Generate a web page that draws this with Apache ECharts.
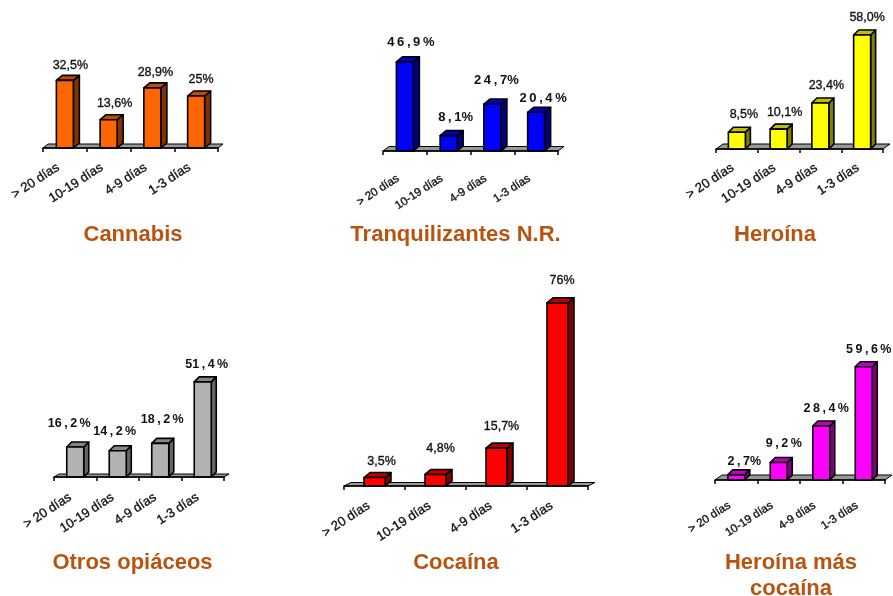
<!DOCTYPE html>
<html><head><meta charset="utf-8">
<style>html,body{margin:0;padding:0;background:#fff}#c{width:893px;height:596px}</style>
<script src="https://cdn.jsdelivr.net/npm/echarts@6/dist/echarts.min.js"></script>
</head><body><div id="c"></div>
<script>
var categories = ['> 20 días','10-19 días','4-9 días','1-3 días'];
var titles = ['Cannabis','Tranquilizantes N.R.','Heroína','Otros opiáceos','Cocaína','Heroína más\ncocaína'];
var cannabis = [32.5,13.6,28.9,25];
var tranquilizantes = [46.9,8.1,24.7,20.4];
var heroina = [8.5,10.1,23.4,58.0];
var opiaceos = [16.2,14.2,18.2,51.4];
var cocaina = [3.5,4.8,15.7,76];
var heroinaCocaina = [2.7,9.2,28.4,59.6];
var labelsCannabis = ['32,5%','13,6%','28,9%','25%'];
var labelsTranq = ['4\u20096\u2009,\u20099\u2009%','8\u2009,\u20091%','2\u20094\u2009,\u20097%','2\u20090\u2009,\u20094\u2009%'];
var labelsHeroina = ['8,5%','10,1%','23,4%','58,0%'];
var labelsOpiaceos = ['16\u2009,\u20092\u2009%','14\u2009,\u20092\u2009%','18\u2009,\u20092\u2009%','51\u2009,\u20094\u2009%'];
var labelsCocaina = ['3,5%','4,8%','15,7%','76%'];
var labelsHC = ['2\u2009,\u20097%','9\u2009,\u20092\u2009%','2\u20098\u2009,\u20094\u2009%','5\u20099\u2009,\u20096\u2009%'];

var panels = [
 {v:cannabis,l:labelsCannabis,lo:[[5.5,-15],[6,-16],[3,-15],[5,-16]],x0:43,x1:218,y0:148,k:2.08,mx:60,dx:6,dy:5,fdx:5,fdy:4,front:'#FF6600',top:'#BF4C00',side:'#803300',fs:12.5,fw:'normal',cfs:13,m:14,pad:8,bw:17,tx:133,ty:234},
 {v:tranquilizantes,l:labelsTranq,lo:[[6,-19],[7,-18],[4,-24],[7,-14]],x0:383,x1:558,y0:151,k:1.9,mx:70,dx:6,dy:5,fdx:6,fdy:4.5,front:'#0000FF',top:'#0000BF',side:'#000080',fs:13,fw:'bold',cfs:11.5,m:22,pad:8,bw:17,tx:455.5,ty:234},
 {v:heroina,l:labelsHeroina,lo:[[7,-18],[6,-17],[6,-17],[5,-17]],x0:716,x1:883,y0:149,k:1.966,mx:70,dx:5,dy:5,fdx:7,fdy:5,front:'#FFFF00',top:'#BFBF00',side:'#808000',fs:12.5,fw:'normal',cfs:13,m:15,pad:5,bw:17,tx:775,ty:234},
 {v:opiaceos,l:labelsOpiaceos,lo:[[-6,-23],[-3,-19],[2,-24],[4,-17]],x0:54,x1:224,y0:477,k:1.85,mx:100,dx:5,dy:5,fdx:5,fdy:3,front:'#B2B2B2',top:'#868686',side:'#666666',fs:12.5,fw:'bold',cfs:13,m:16,pad:6,bw:17,tx:132.5,ty:562},
 {v:cocaina,l:labelsCocaina,lo:[[7,-16],[5,-26],[5,-22],[4.5,-22]],x0:344,x1:588,y0:486,k:2.41,mx:100,dx:6,dy:5,fdx:7,fdy:3.5,front:'#FF0000',top:'#BF0000',side:'#800000',fs:12.5,fw:'normal',cfs:13,m:15,pad:7,bw:21,tx:456,ty:562},
 {v:heroinaCocaina,l:labelsHC,lo:[[8,-13],[5,-19],[5,-17],[5,-17]],x0:715,x1:885,y0:480,k:1.9,mx:100,dx:5,dy:5,fdx:7,fdy:5,front:'#FF00FF',top:'#BF00BF',side:'#800080',fs:12.5,fw:'bold',cfs:11.5,m:20,pad:8,bw:17,tx:791,ty:562}
];
var font='"Liberation Sans",Arial,sans-serif';
var chart = echarts.init(document.getElementById('c'),null,{renderer:'canvas'});
var grid=[],xAxis=[],yAxis=[],series=[],title=[];
panels.forEach(function(p,i){
  grid.push({left:p.x0,width:p.x1-p.x0,top:p.y0-p.k*p.mx,height:p.k*p.mx,containLabel:false});
  xAxis.push({type:'category',gridIndex:i,data:categories,z:5,
    axisLine:{lineStyle:{color:'#000',width:1.5}},
    axisTick:{show:true,alignWithLabel:false,length:4,lineStyle:{color:'#000',width:1.5}},
    axisLabel:{rotate:33,interval:0,fontSize:p.cfs,fontFamily:font,color:'#111',margin:p.m,
      textBorderColor:'#222',textBorderWidth:0.35,padding:[0,p.pad,0,0]}});
  yAxis.push({type:'value',gridIndex:i,min:0,max:p.mx,show:false});
  series.push({type:'custom',xAxisIndex:i,yAxisIndex:i,z:1,silent:true,clip:false,data:[0],
    renderItem:function(params,api){
      var c=params.coordSys,y=c.y+c.height;
      return {type:'polygon',shape:{points:[[c.x,y],[c.x+c.width,y],[c.x+c.width+p.fdx,y-p.fdy],[c.x+p.fdx,y-p.fdy]]},
        style:{fill:'#999999',stroke:'#000',lineWidth:1}};
    }});
  series.push({type:'custom',xAxisIndex:i,yAxisIndex:i,z:3,silent:true,clip:false,
    data:p.v.map(function(v,j){return [j,v];}),
    encode:{x:0,y:1},
    renderItem:function(params,api){
      var j=api.value(0),pt=api.coord([j,api.value(1)]),base=api.coord([j,0]);
      var bw=p.bw,l=pt[0]-bw/2,r=pt[0]+bw/2,t=pt[1],b=base[1],dx=p.dx,dy=p.dy;
      var st={stroke:'#000',lineWidth:1.6,lineJoin:'round'};
      return {type:'group',children:[
        {type:'polygon',shape:{points:[[r,t],[r+dx,t-dy],[r+dx,b-dy],[r,b]]},style:Object.assign({fill:p.side},st)},
        {type:'polygon',shape:{points:[[l,t],[l+dx,t-dy],[r+dx,t-dy],[r,t]]},style:Object.assign({fill:p.top},st)},
        {type:'rect',shape:{x:l,y:t,width:bw,height:b-t},style:Object.assign({fill:p.front},st)},
        {type:'text',style:{text:p.l[j],x:pt[0]+p.lo[j][0],y:t+p.lo[j][1],align:'center',verticalAlign:'middle',
          font:p.fw+' '+p.fs+'px '+font,fill:'#111',stroke:p.fw==='bold'?null:'#222',lineWidth:p.fw==='bold'?0:0.35}}
      ]};
    }});
  title.push({text:titles[i],left:p.tx,top:p.ty-12,textAlign:'center',padding:0,
    textStyle:{fontFamily:font,fontSize:22,fontWeight:'bold',color:'#B85410',lineHeight:26}});
});
chart.setOption({animation:false,backgroundColor:'#fff',title:title,grid:grid,xAxis:xAxis,yAxis:yAxis,series:series});
</script></body></html>
